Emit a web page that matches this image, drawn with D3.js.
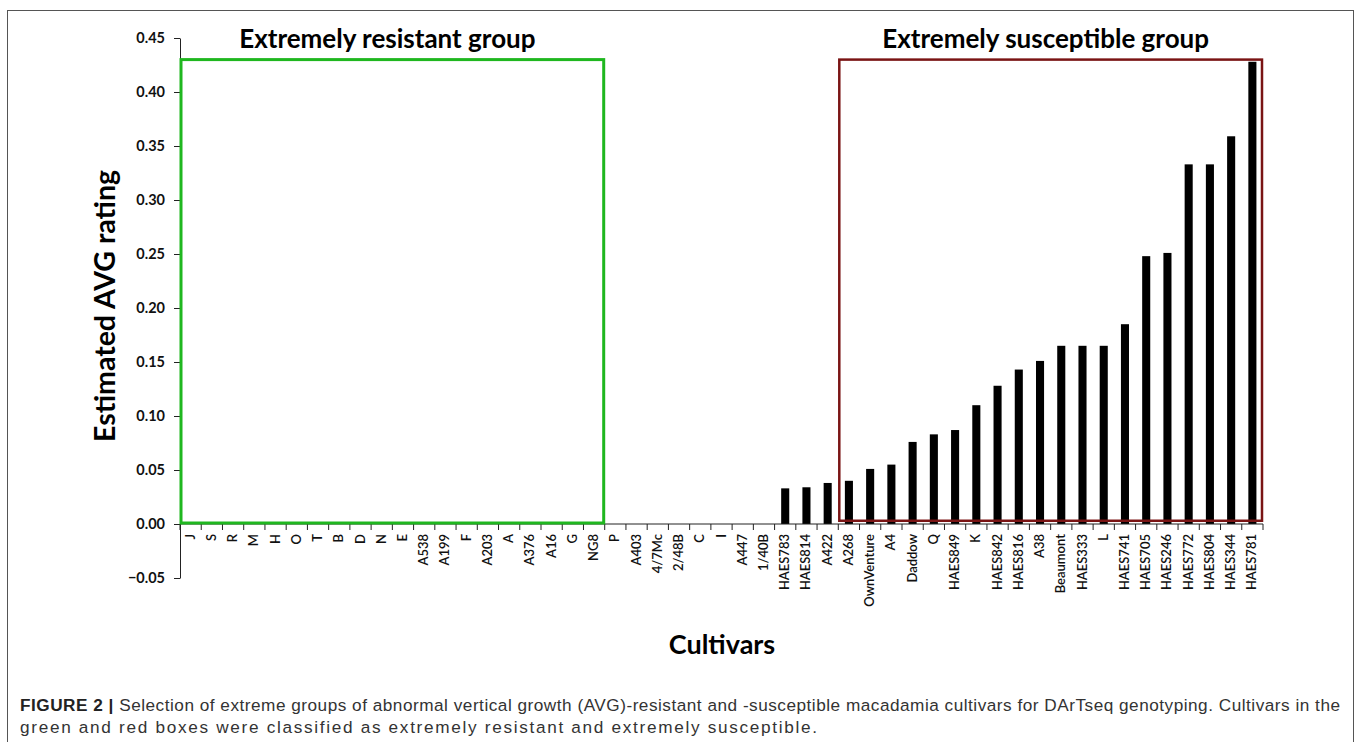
<!DOCTYPE html>
<html>
<head>
<meta charset="utf-8">
<script src="https://cdn.jsdelivr.net/npm/d3@7"></script>
<style>
  body { margin: 0; background: #fff; }
  svg { display: block; }
</style>
</head>
<body>
<svg id="chart" width="1358" height="742"></svg>
<script>
// Cultivar names, in the order they sit along the x axis
const cultivars = ["J", "S", "R", "M", "H", "O", "T", "B", "D", "N", "E", "A538", "A199", "F",
    "A203", "A", "A376", "A16", "G", "NG8", "P", "A403", "4/7Mc", "2/48B", "C", "I", "A447",
    "1/40B", "HAES783", "HAES814", "A422", "A268", "OwnVenture", "A4", "Daddow", "Q", "HAES849",
    "K", "HAES842", "HAES816", "A38", "Beaumont", "HAES333", "L", "HAES741", "HAES705",
    "HAES246", "HAES772", "HAES804", "HAES344", "HAES781"];

// Estimated AVG rating for each cultivar
const avgRating = [0, 0, 0, 0, 0, 0, 0, 0, 0, 0, 0, 0, 0, 0,
    0, 0, 0, 0, 0, 0, 0, 0, 0, 0, 0, 0, 0,
    0, 0.033, 0.034, 0.038, 0.040, 0.051, 0.055, 0.076, 0.083, 0.087,
    0.110, 0.128, 0.143, 0.151, 0.165, 0.165, 0.165, 0.185, 0.248,
    0.251, 0.333, 0.333, 0.359, 0.428];

// y axis tick values
const yTicks = [-0.05, 0, 0.05, 0.10, 0.15, 0.20, 0.25, 0.30, 0.35, 0.40, 0.45];

// The two extreme groups: first and last cultivar inside each box
const groupNames = ["Extremely resistant group", "Extremely susceptible group"];
const groupFirst = ["J", "A268"];
const groupLast = ["NG8", "HAES781"];
const groupColors = ["#1fb71f", "#7a1414"];
const groupTop = 0.43;

const captionLines = [
    ["FIGURE 2 | ", "Selection of extreme groups of abnormal vertical growth (AVG)-resistant and -susceptible macadamia cultivars for DArTseq genotyping. Cultivars in the"],
    ["", "green and red boxes were classified as extremely resistant and extremely susceptible."]
];
// printed width of each caption line (the journal sets them loosely)
const captionWidths = [1320, 797];

const svg = d3.select("#chart");
const chartFont = "Lato, 'Open Sans', sans-serif";

// outer figure frame
svg.append("rect")
    .attr("x", 7.5).attr("y", 10.5)
    .attr("width", 1346).attr("height", 800)
    .attr("fill", "none")
    .attr("stroke", "#555")
    .attr("stroke-width", 1);

const plot = { left: 180, right: 1263, top: 38, bottom: 578 };

const x = d3.scaleBand()
    .domain(cultivars)
    .range([plot.left, plot.right])
    .paddingInner(0)
    .paddingOuter(0);

const y = d3.scaleLinear()
    .domain([-0.05, 0.45])
    .range([plot.bottom, plot.top]);

const barWidth = x.bandwidth() * 0.38;

// bars
svg.append("g").selectAll("rect.bar")
    .data(cultivars)
    .enter()
    .append("rect")
    .attr("class", "bar")
    .attr("x", d => x(d) + (x.bandwidth() - barWidth) / 2)
    .attr("y", (d, i) => y(avgRating[i]))
    .attr("width", barWidth)
    .attr("height", (d, i) => y(0) - y(avgRating[i]))
    .attr("fill", "#000");

// y axis
const yAxis = svg.append("g")
    .attr("transform", `translate(${plot.left},0)`)
    .call(d3.axisLeft(y)
        .tickValues(yTicks)
        .tickFormat(d3.format(".2f"))
        .tickSize(6)
        .tickSizeOuter(0));
yAxis.select(".domain").attr("stroke", "#222");
yAxis.selectAll(".tick line").attr("stroke", "#222");
yAxis.selectAll(".tick text")
    .attr("x", -15)
    .style("font-family", chartFont)
    .style("font-size", "14.5px")
    .style("font-weight", "bold")
    .attr("fill", "#111");

// x axis line at zero, with ticks on the band edges
const xAxis = svg.append("g");
xAxis.append("line")
    .attr("x1", plot.left).attr("x2", plot.right)
    .attr("y1", y(0)).attr("y2", y(0))
    .attr("stroke", "#222");
const edges = cultivars.map(d => x(d)).concat([plot.right]);
xAxis.selectAll("line.edge")
    .data(edges)
    .enter()
    .append("line")
    .attr("class", "edge")
    .attr("x1", d => d).attr("x2", d => d)
    .attr("y1", y(0)).attr("y2", y(0) + 6)
    .attr("stroke", "#222");
xAxis.selectAll("text")
    .data(cultivars)
    .enter()
    .append("text")
    .attr("transform", d => `translate(${x(d) + x.bandwidth() / 2 + 4},${y(0) + 10}) rotate(-90)`)
    .attr("text-anchor", "end")
    .style("font-family", chartFont)
    .style("font-size", "13px")
    .style("font-weight", "600")
    .attr("fill", "#111")
    .text(d => d);

// group boxes and their titles
groupNames.forEach(function(name, i) {
    const x0 = x(groupFirst[i]);
    const x1 = x(groupLast[i]) + x.bandwidth();
    const bottom = i === 0 ? y(0) - 1 : y(0.003);
    svg.append("rect")
        .attr("x", x0 + 1)
        .attr("y", y(groupTop))
        .attr("width", x1 - x0 - 2)
        .attr("height", bottom - y(groupTop))
        .attr("fill", "none")
        .attr("stroke", groupColors[i])
        .attr("stroke-width", i === 0 ? 3 : 2.5);
    svg.append("text")
        .attr("x", (x0 + x1) / 2 - 5)
        .attr("y", 48)
        .attr("text-anchor", "middle")
        .style("font-family", chartFont)
        .style("font-size", "26px")
        .style("font-weight", "bold")
        .attr("fill", "#000")
        .text(name);
});

// axis titles
svg.append("text")
    .attr("transform", `translate(115,${(y(0.45) + y(-0.05)) / 2 - 2}) rotate(-90)`)
    .attr("text-anchor", "middle")
    .style("font-family", chartFont)
    .style("font-size", "28.5px")
    .style("font-weight", "bold")
    .attr("fill", "#000")
    .text("Estimated AVG rating");

svg.append("text")
    .attr("x", 722)
    .attr("y", 654)
    .attr("text-anchor", "middle")
    .style("font-family", chartFont)
    .style("font-size", "27px")
    .style("font-weight", "bold")
    .attr("fill", "#000")
    .text("Cultivars");

// figure caption
captionLines.forEach(function(line, i) {
    const t = svg.append("text")
        .attr("x", 20)
        .attr("y", 711 + i * 22)
        .attr("textLength", captionWidths[i])
        .attr("lengthAdjust", "spacing")
        .style("font-family", "'Liberation Sans', Arial, sans-serif")
        .style("font-size", "17.2px")
        .attr("fill", "#333");
    if (line[0]) {
        t.append("tspan").style("font-weight", "bold").attr("fill", "#222").text(line[0]);
    }
    t.append("tspan").text(line[1]);
});
</script>
</body>
</html>
